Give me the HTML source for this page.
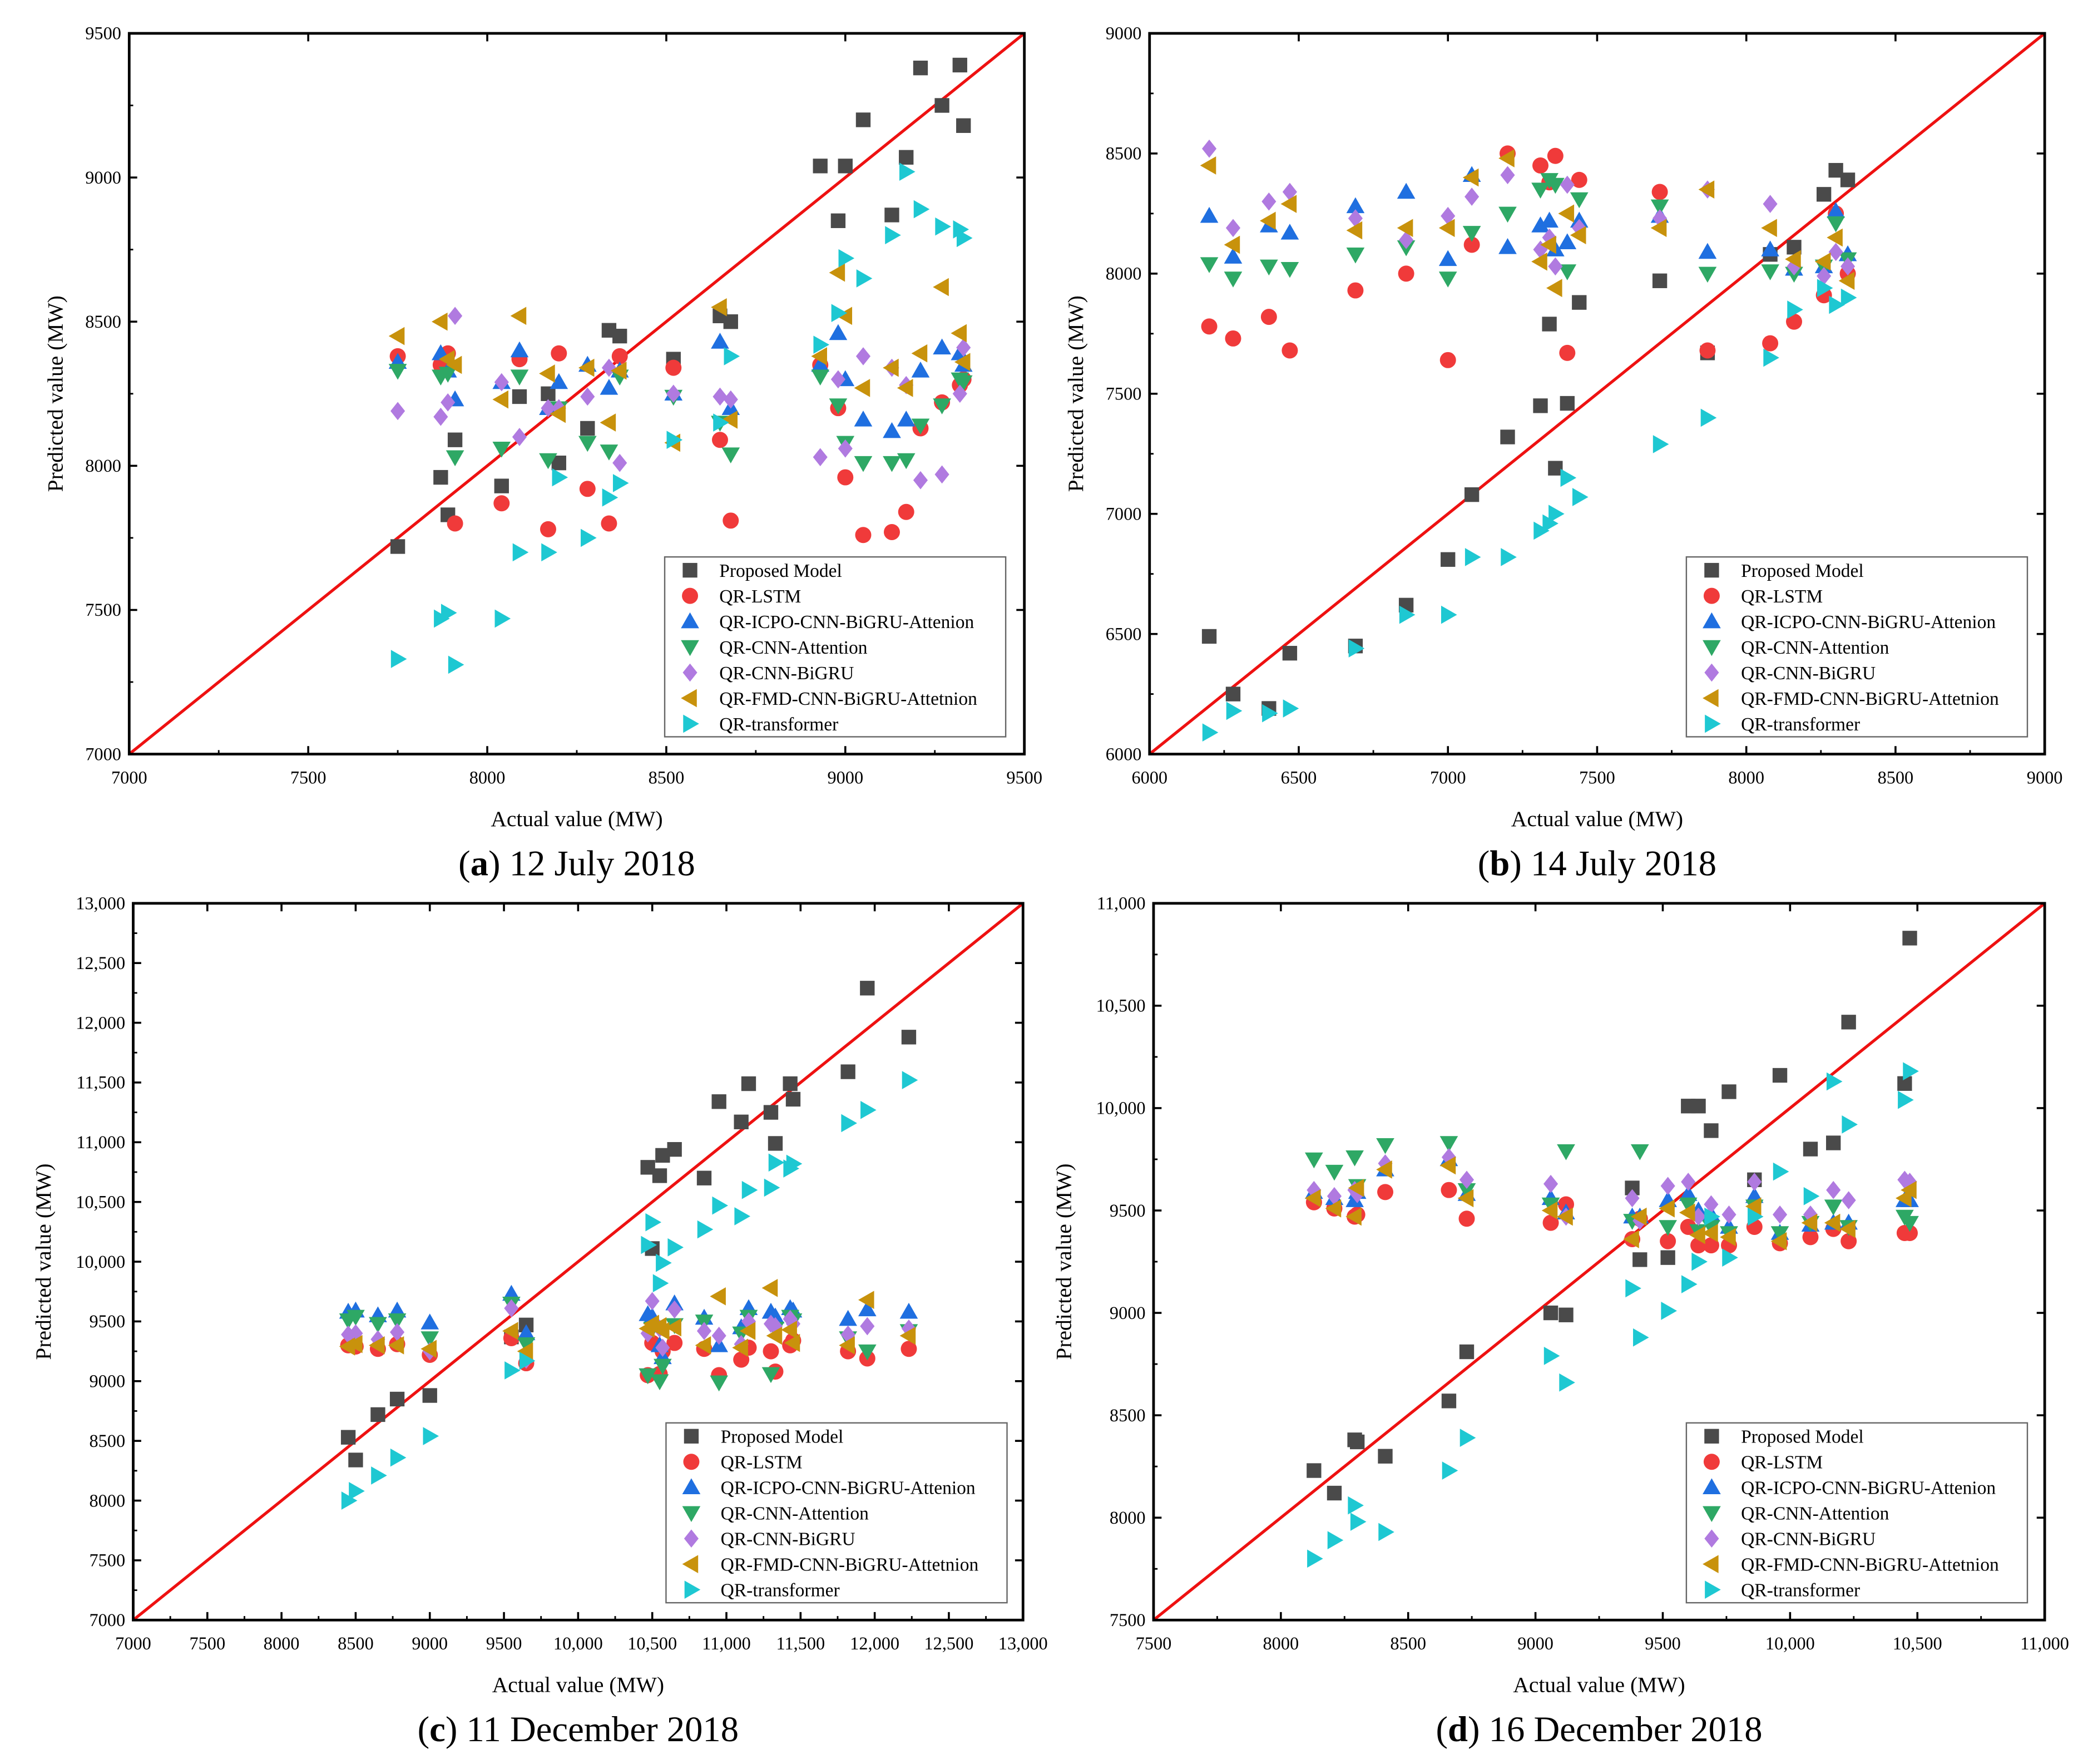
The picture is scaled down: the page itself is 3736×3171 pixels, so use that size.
<!DOCTYPE html>
<html><head><meta charset="utf-8">
<style>
html,body{margin:0;padding:0;background:#fff;}
svg{display:block;font-family:"Liberation Serif",serif;}
</style></head>
<body>
<svg id="fig" width="3736" height="3171" viewBox="0 0 1560 1324" xmlns="http://www.w3.org/2000/svg"></svg>
<script>
const seriesNames=["Proposed Model","QR-LSTM","QR-ICPO-CNN-BiGRU-Attenion","QR-CNN-Attention","QR-CNN-BiGRU","QR-FMD-CNN-BiGRU-Attetnion","QR-transformer"];
// Panel a
const aX=[7750,7870,7890,7910,8040,8090,8170,8200,8280,8340,8370,8520,8650,8680,8930,8980,9000,9050,9130,9170,9210,9270,9320,9330];
const aProposed=[7720,7960,7830,8090,7930,8240,8250,8010,8130,8470,8450,8370,8520,8500,9040,8850,9040,9200,8870,9070,9380,9250,9390,9180];
const aLSTM=[8380,8350,8390,7800,7870,8370,7780,8390,7920,7800,8380,8340,8090,7810,8350,8200,7960,7760,7770,7840,8130,8220,8280,8300];
const aICPO=[8360,8390,8330,8230,8290,8400,8200,8290,8350,8270,8330,8250,8430,8200,8350,8460,8300,8160,8120,8160,8330,8410,8390,8350];
const aAtt=[8330,8310,8320,8030,8060,8310,8020,8200,8080,8050,8310,8240,8150,8040,8310,8210,8080,8010,8010,8020,8140,8210,8300,8290];
const aBiGRU=[8190,8170,8220,8520,8290,8100,8200,8200,8240,8340,8010,8250,8240,8230,8030,8300,8060,8380,8340,8280,7950,7970,8250,8410];
const aFMD=[8450,8500,8370,8350,8230,8520,8320,8180,8340,8150,8330,8080,8550,8160,8380,8670,8520,8270,8340,8270,8390,8620,8460,8360];
const aTrans=[7330,7470,7490,7310,7470,7700,7700,7960,7750,7890,7940,8090,8150,8380,8420,8530,8720,8650,8800,9020,8890,8830,8820,8790];
const aTicks=[7000,7500,8000,8500,9000,9500];
// Panel b
const bX=[6200,6280,6400,6470,6690,6860,7000,7080,7200,7310,7340,7360,7400,7440,7710,7870,8080,8160,8260,8300,8340];
const bProposed=[6490,6250,6190,6420,6450,6620,6810,7080,7320,7450,7790,7190,7460,7880,7970,7670,8080,8110,8330,8430,8390];
const bLSTM=[7780,7730,7820,7680,7930,8000,7640,8120,8500,8450,8380,8490,7670,8390,8340,7680,7710,7800,7910,8250,8000];
const bICPO=[8240,8070,8200,8170,8280,8340,8060,8410,8110,8200,8220,8100,8130,8220,8240,8090,8100,8020,8030,8260,8080];
const bAtt=[8040,7980,8030,8020,8080,8110,7980,8170,8250,8350,8390,8370,8010,8310,8280,8000,8010,8000,8030,8210,8060];
const bBiGRU=[8520,8190,8300,8340,8230,8140,8240,8320,8410,8100,8150,8030,8370,8190,8230,8350,8290,8030,7990,8090,8030];
const bFMD=[8450,8120,8220,8290,8180,8190,8190,8400,8480,8050,8120,7940,8250,8160,8190,8350,8190,8060,8050,8150,7970];
const bTrans=[6090,6180,6170,6190,6440,6580,6580,6820,6820,6930,6960,7000,7150,7070,7290,7400,7650,7850,7940,7870,7900];
const bTicks=[6000,6500,7000,7500,8000,8500,9000];
// Panel c
const cX=[8450,8500,8650,8780,9000,9550,9650,10470,10500,10550,10570,10650,10850,10950,11100,11150,11300,11330,11430,11450,11820,11950,12230];
const cProposed=[8530,8340,8720,8850,8880,9370,9470,10790,10110,10720,10890,10940,10700,11340,11170,11490,11250,10990,11490,11360,11590,12290,11880];
const cLSTM=[9300,9290,9270,9310,9220,9360,9150,9050,9320,9060,9250,9320,9270,9050,9180,9280,9250,9080,9300,9340,9250,9190,9270];
const cICPO=[9580,9590,9550,9590,9490,9730,9400,9560,9540,9300,9200,9650,9530,9300,9450,9610,9580,9540,9610,9590,9520,9600,9580];
const cAtt=[9510,9540,9480,9510,9360,9650,9310,9050,9440,9000,9130,9470,9500,8990,9400,9540,9060,9440,9540,9510,9360,9250,9420];
const cBiGRU=[9390,9400,9350,9410,9250,9610,9180,9400,9670,9440,9280,9600,9420,9380,9310,9500,9480,9460,9520,9480,9390,9460,9440];
const cFMD=[9290,9310,9300,9300,9270,9420,9250,9440,9480,9460,9420,9450,9300,9710,9280,9420,9780,9380,9430,9320,9300,9680,9380];
const cTrans=[8000,8080,8210,8360,8540,9090,9170,10140,10330,9820,9990,10120,10270,10470,10380,10600,10620,10830,10780,10820,11160,11270,11520];
const cTicks=[7000,7500,8000,8500,9000,9500,10000,10500,11000,11500,12000,12500,13000];
// Panel d
const dX=[8130,8210,8290,8300,8410,8660,8730,9060,9120,9380,9410,9520,9600,9640,9690,9760,9860,9960,10080,10170,10230,10450,10470];
const dProposed=[8230,8120,8380,8370,8300,8570,8810,9000,8990,9610,9260,9270,10010,10010,9890,10080,9650,10160,9800,9830,10420,10120,10830];
const dLSTM=[9540,9510,9470,9480,9590,9600,9460,9440,9530,9360,9460,9350,9420,9330,9330,9330,9420,9340,9370,9410,9350,9390,9390];
const dICPO=[9590,9560,9550,9590,9700,9750,9580,9560,9490,9470,9470,9550,9580,9500,9480,9420,9570,9390,9430,9440,9440,9550,9550];
const dAtt=[9750,9690,9760,9620,9820,9830,9600,9530,9790,9450,9790,9420,9530,9400,9420,9390,9520,9390,9440,9520,9420,9470,9440];
const dBiGRU=[9600,9570,9600,9580,9730,9760,9650,9630,9470,9560,9450,9620,9640,9470,9530,9480,9640,9480,9480,9600,9550,9650,9640];
const dFMD=[9560,9510,9470,9610,9700,9720,9560,9500,9470,9360,9470,9510,9490,9380,9390,9370,9520,9350,9440,9440,9410,9560,9600];
const dTrans=[7800,7890,8060,7980,7930,8230,8390,8790,8660,9120,8880,9010,9140,9250,9470,9270,9470,9690,9570,10130,9920,10040,10180];
const dTicks=[7500,8000,8500,9000,9500,10000,10500,11000];

const NS="http://www.w3.org/2000/svg";
const svg=document.getElementById('fig');
const colors=["#4a4a4a","#f03a3a","#1f6fe0","#2ea865","#b07ae0","#c8920c","#1ec8d2"];
const shapes=["square","circle","up","down","diamond","left","right"];
function el(tag,attrs,parent){const e=document.createElementNS(NS,tag);for(const k in attrs)e.setAttribute(k,attrs[k]);(parent||svg).appendChild(e);return e;}
function fmt(v,comma){return comma&&v>=10000?String(v).replace(/(\d)(\d{3})$/,'$1,$2'):String(v);}
function marker(g,shape,cx,cy,col,s){
  let e;
  if(shape==="square")e=el('rect',{x:cx-s*0.5,y:cy-s*0.5,width:s,height:s,fill:col},g);
  else if(shape==="circle")e=el('circle',{cx:cx,cy:cy,r:s*0.55,fill:col},g);
  else{let p;const r=s*0.62;
    if(shape==="up")p=[[cx,cy-r],[cx+r,cy+r*0.75],[cx-r,cy+r*0.75]];
    if(shape==="down")p=[[cx,cy+r],[cx+r,cy-r*0.75],[cx-r,cy-r*0.75]];
    if(shape==="left")p=[[cx-r,cy],[cx+r*0.75,cy-r],[cx+r*0.75,cy+r]];
    if(shape==="right")p=[[cx+r,cy],[cx-r*0.75,cy-r],[cx-r*0.75,cy+r]];
    if(shape==="diamond")p=[[cx,cy-r],[cx+r*0.8,cy],[cx,cy+r],[cx-r*0.8,cy]];
    e=el('polygon',{points:p.map(q=>q.join(',')).join(' '),fill:col},g);}
  return e;
}
function panel(id,L,T,R,B,ticks,xs,ys,leg,caption,comma){
  const g=el('g',{});
  
  
  const lo=ticks[0],hi=ticks[ticks.length-1];
  const sx=v=>L+(v-lo)/(hi-lo)*(R-L);
  const sy=v=>B-(v-lo)/(hi-lo)*(B-T);
  const step=ticks[1]-ticks[0];
  // minor and major ticks
  for(let i=0;i<ticks.length;i++){
    const v=ticks[i];
    el('line',{x1:sx(v),y1:B,x2:sx(v),y2:B-6,stroke:'#000','stroke-width':1.5},g);
    el('line',{x1:L,y1:sy(v),x2:L+6,y2:sy(v),stroke:'#000','stroke-width':1.5},g);
    el('line',{x1:R,y1:sy(v),x2:R-6,y2:sy(v),stroke:'#000','stroke-width':1.5},g);
    el('line',{x1:sx(v),y1:T,x2:sx(v),y2:T+6,stroke:'#000','stroke-width':1.5},g);
    if(i<ticks.length-1){const m=v+step/2;
      el('line',{x1:sx(m),y1:B,x2:sx(m),y2:B-3,stroke:'#000','stroke-width':1.2},g);
      el('line',{x1:L,y1:sy(m),x2:L+3,y2:sy(m),stroke:'#000','stroke-width':1.2},g);}
    const tx=el('text',{x:sx(v),y:B+22,'font-size':13.5,'text-anchor':'middle'},g);tx.textContent=fmt(v,comma);
    
    
    const ty=el('text',{x:L-6,y:sy(v)+4.5,'font-size':13.5,'text-anchor':'end'},g);ty.textContent=fmt(v,comma);
    
    
  }
  const diag=el('line',{x1:L,y1:B,x2:R,y2:T,stroke:'#ee1111','stroke-width':2.2},g);
  
  
  for(let s=0;s<ys.length;s++){
    const sg=el('g',{},g);
    
    
    for(let i=0;i<xs.length;i++){
      const m=marker(sg,shapes[s],sx(xs[i]),sy(ys[s][i]),colors[s],11);
      
      
    }
  }
  const fr=el('rect',{x:L,y:T,width:R-L,height:B-T,fill:'none',stroke:'#000','stroke-width':2},g);
  
  
  // legend
  const lg=el('g',{},g);
  
  
  el('rect',{x:leg[0],y:leg[1],width:256,height:135,fill:'#fff',stroke:'#666','stroke-width':1},lg);
  for(let s=0;s<7;s++){
    const yy=leg[1]+10+s*19.2;
    const en=el('g',{},lg);
    
    
    marker(en,shapes[s],leg[0]+19,yy,colors[s],11);
    const t=el('text',{x:leg[0]+41,y:yy+5,'font-size':14},en);t.textContent=seriesNames[s];
  }
  const xt=el('text',{x:(L+R)/2,y:B+54,'font-size':16.5,'text-anchor':'middle'},g);xt.textContent='Actual value (MW)';
  
  
  const ytx=L-(comma?62:50),yty=(T+B)/2;
  const yt=el('text',{x:ytx,y:yty,'font-size':16.5,'text-anchor':'middle',transform:'rotate(-90 '+ytx+' '+yty+')'},g);yt.textContent='Predicted value (MW)';
  
  
  const ct=el('text',{x:(L+R)/2,y:B+91,'font-size':27,'text-anchor':'middle'},g);
  
  
  const t1=el('tspan',{},ct);t1.textContent='(';
  const t2=el('tspan',{'font-weight':'bold'},ct);t2.textContent=id;
  const t3=el('tspan',{},ct);t3.textContent=') '+caption;
}
panel('a',97,25,769,566,aTicks,aX,[aProposed,aLSTM,aICPO,aAtt,aBiGRU,aFMD,aTrans],[499,418],'12 July 2018',false);
panel('b',863,25,1535,566,bTicks,bX,[bProposed,bLSTM,bICPO,bAtt,bBiGRU,bFMD,bTrans],[1266,418],'14 July 2018',false);
panel('c',100,678,768,1216,cTicks,cX,[cProposed,cLSTM,cICPO,cAtt,cBiGRU,cFMD,cTrans],[500,1068],'11 December 2018',true);
panel('d',866,678,1535,1216,dTicks,dX,[dProposed,dLSTM,dICPO,dAtt,dBiGRU,dFMD,dTrans],[1266,1068],'16 December 2018',true);
</script>
</body></html>
